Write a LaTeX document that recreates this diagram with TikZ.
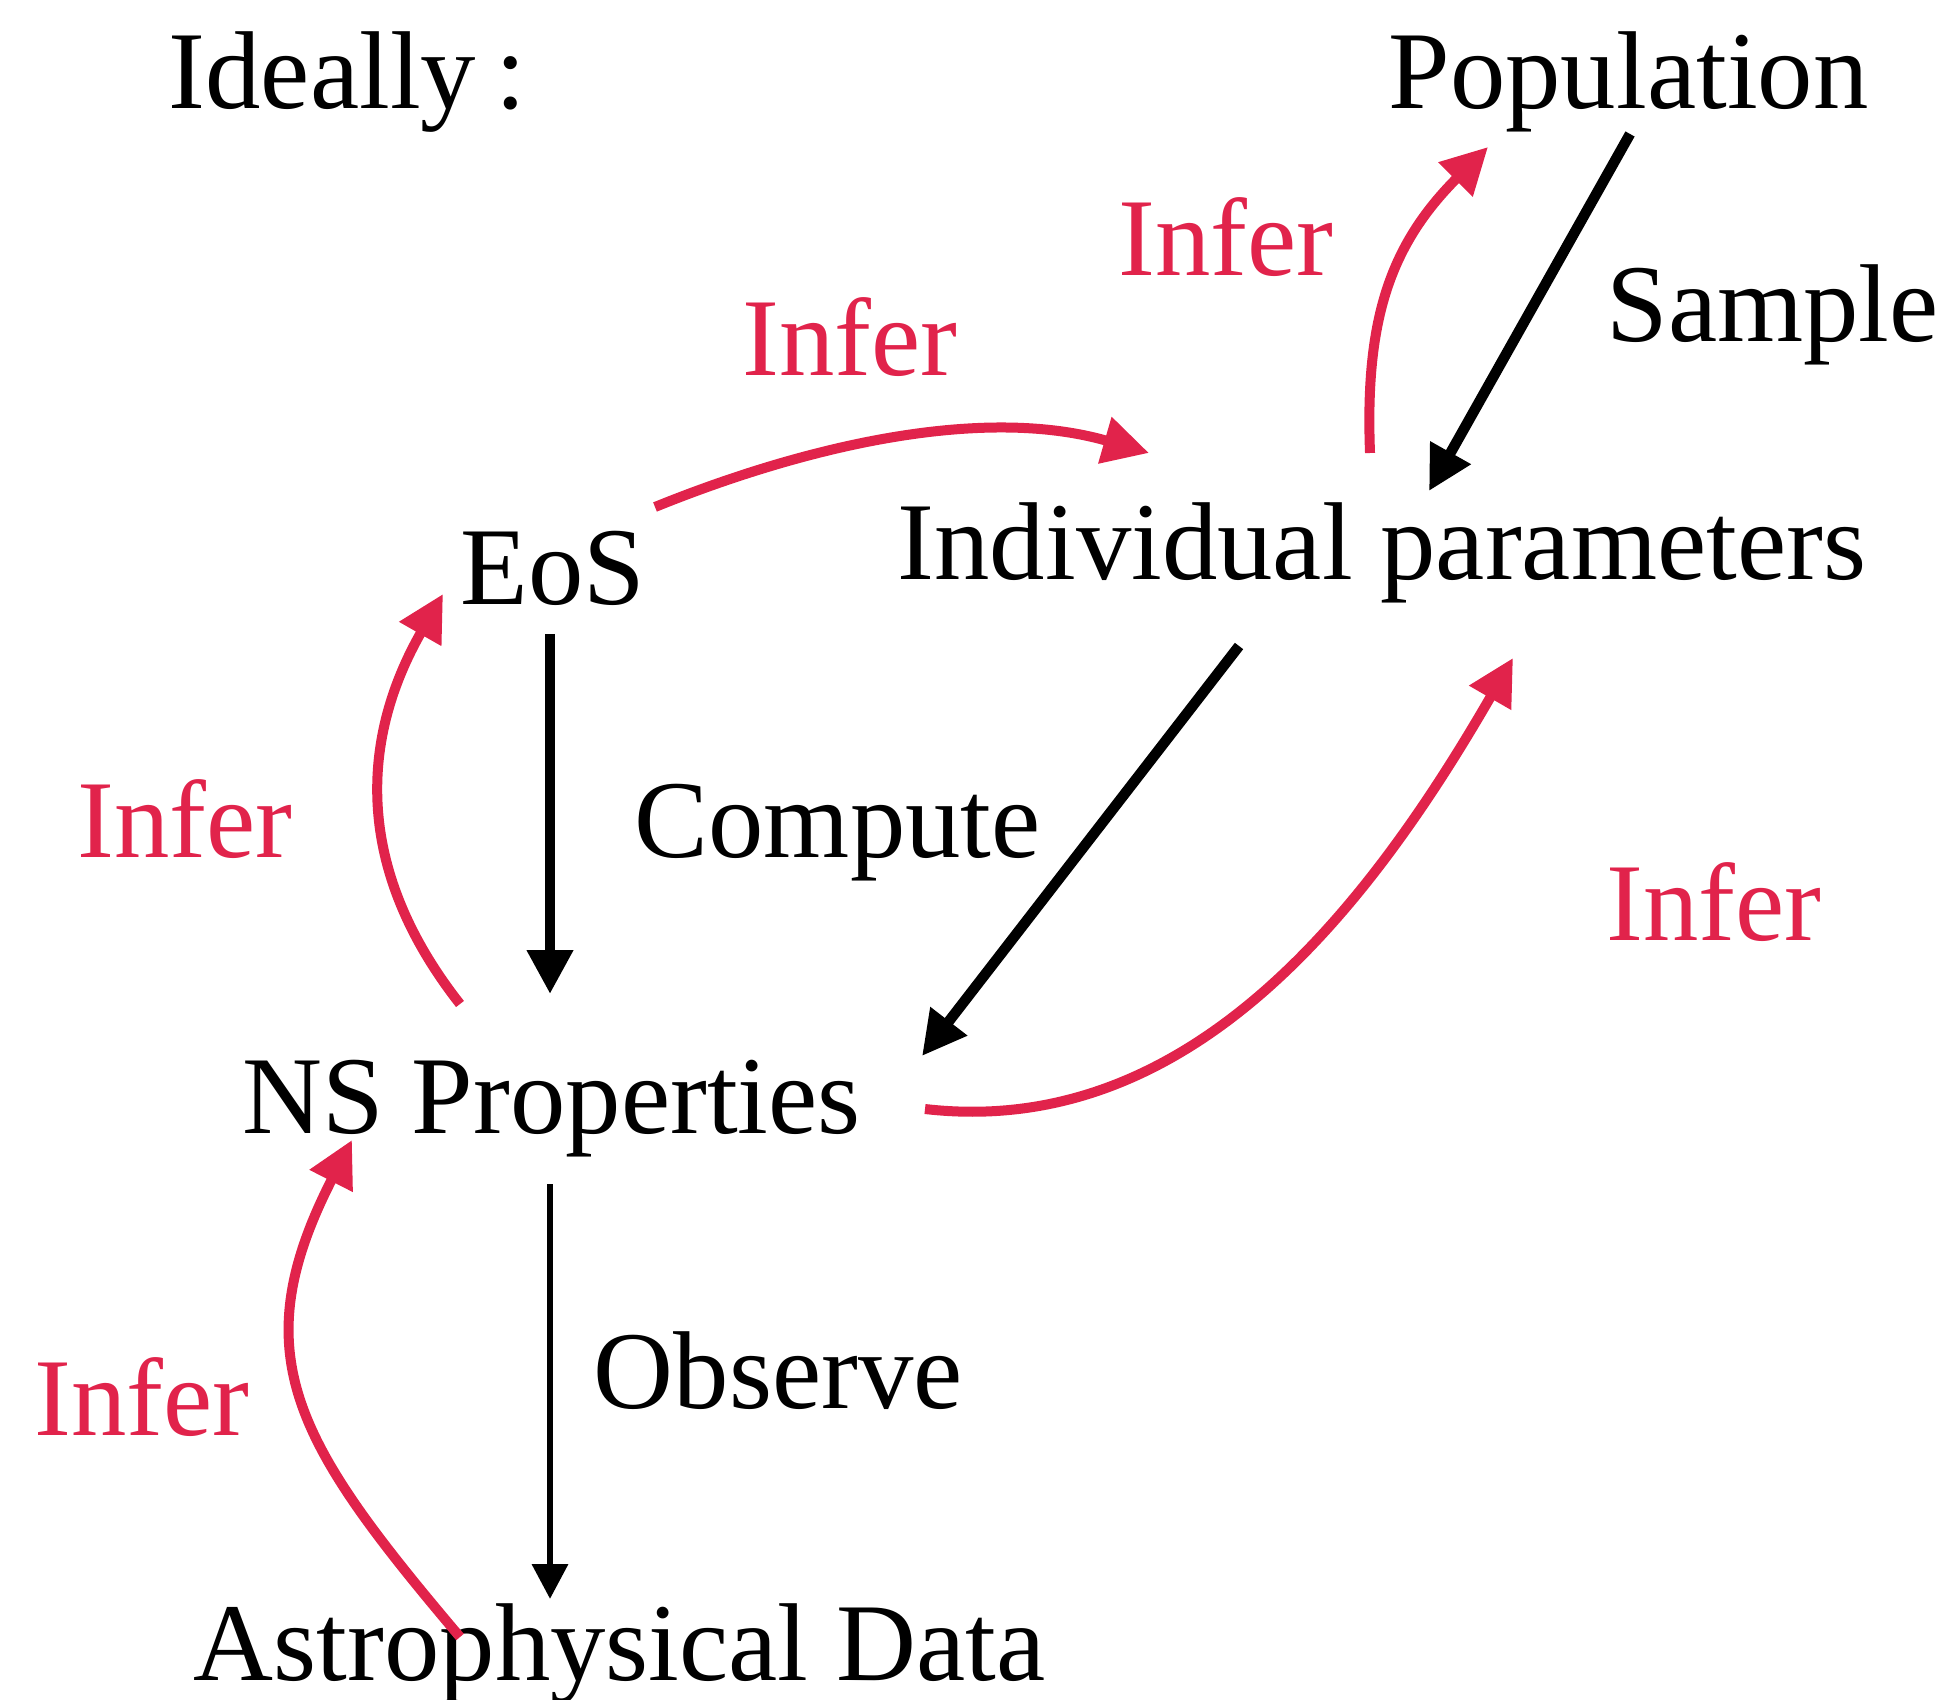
\documentclass[tikz,border=0pt]{standalone}
\usepackage{fontspec}
\setmainfont{Liberation Serif}
\usetikzlibrary{arrows.meta}
\definecolor{inferred}{RGB}{225,35,75}
\tikzset{
  lbl/.style={inner sep=0pt, anchor=base west, font=\fontsize{31.5}{36}\selectfont},
  redlbl/.style={lbl, text=inferred},
  blkarr/.style={line width=1.05mm, -{Triangle[length=4.4mm,width=4.4mm]}},
  thinarr/.style={line width=0.67mm, -{Triangle[length=3.5mm,width=3.5mm]}},
  redarr/.style={draw=inferred, line width=1.0mm, -{Triangle[length=4.6mm,width=4.6mm,fill=inferred]}},
}
\begin{document}
\begin{tikzpicture}[x=0.1mm,y=-0.1mm]
\useasboundingbox (0,0) rectangle (1948,1700);
% nodes
\node[lbl] (ideally) at (168,109) {Ideally\kern0.18em:};
\node[lbl] (pop) at (1388,109) {Population};
\node[lbl] (sample) at (1606,342) {Sample};
\node[redlbl] (infer1) at (1118,276) {Infer};
\node[redlbl] (infer2) at (742,376) {Infer};
\node[lbl] (eos) at (460,605) {EoS};
\node[lbl] (indiv) at (897,580) {Individual parameters};
\node[redlbl] (inferL) at (77,857) {Infer};
\node[lbl] (compute) at (634,857) {Compute};
\node[redlbl] (inferR) at (1606,940) {Infer};
\node[lbl] (ns) at (242,1133) {NS Properties};
\node[redlbl] (inferBL) at (34,1435) {Infer};
\node[lbl] (observe) at (593,1408) {Observe};
\node[lbl] (astro) at (193,1680) {Astrophysical Data};
% black arrows
\draw[blkarr] ([shift={(242,25)}]pop.base west) -- ([shift={(532,-89)}]indiv.base west);
\draw[blkarr] ([shift={(90,29)}]eos.base west) -- ([shift={(308,-139)}]ns.base west);
\draw[blkarr] ([shift={(342,66)}]indiv.base west) -- ([shift={(680,-77)}]ns.base west);
\draw[thinarr] ([shift={(308,51)}]ns.base west) -- ([shift={(357,-81)}]astro.base west);
% red inference arrows
\draw[redarr] ([shift={(195,-98)}]eos.base west) .. controls +(158,-64) and +(-163,-47) .. ([shift={(252,-127)}]indiv.base west);
\draw[redarr] ([shift={(473,-127)}]indiv.base west) .. controls +(-5,-130) and +(-100,100) .. ([shift={(100,38)}]pop.base west);
\draw[redarr] ([shift={(218,-129)}]ns.base west) .. controls +(-110,-140) and +(-80,140) .. ([shift={(-17,-11)}]eos.base west);
\draw[redarr] ([shift={(267,-43)}]astro.base west) .. controls +(-165,-195) and +(-110,215) .. ([shift={(110,7)}]ns.base west);
\draw[redarr] ([shift={(683,-24)}]ns.base west) .. controls +(260,30) and +(-150,260) .. ([shift={(616,78)}]indiv.base west);
\end{tikzpicture}
\end{document}
